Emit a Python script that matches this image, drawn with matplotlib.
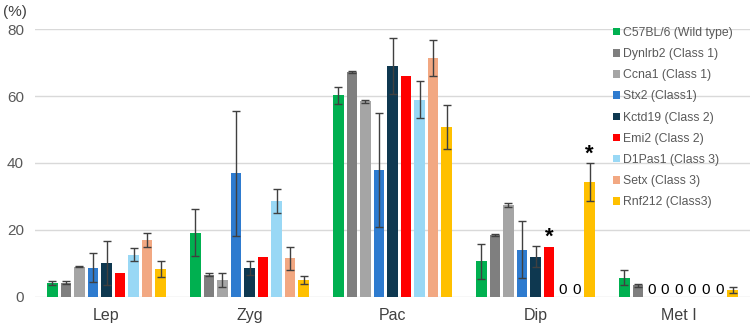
import matplotlib
matplotlib.use("Agg")
import matplotlib.pyplot as plt
import numpy as np

plt.rcParams['font.family'] = ['Liberation Sans', 'DejaVu Sans']

# Stages and strains
stages = ['Lep', 'Zyg', 'Pac', 'Dip', 'Met I']
strains = ['C57BL/6 (Wild type)', 'Dynlrb2 (Class 1)', 'Ccna1 (Class 1)', 'Stx2 (Class1)',
           'Kctd19 (Class 2)', 'Emi2 (Class 2)', 'D1Pas1 (Class 3)', 'Setx (Class 3)',
           'Rnf212 (Class3)']
colors = ['#00B050', '#7F7F7F', '#A5A5A5', '#2E7BCF', '#0E3850', '#FF0000',
          '#99D8F5', '#F2A882', '#FFC000']

# mean values (%) per strain, one entry per stage
means = [
    [4.0, 19.2, 60.2, 10.6, 5.7],
    [4.2, 6.6, 67.3, 18.5, 3.4],
    [9.0, 5.0, 58.4, 27.3, 0],
    [8.7, 36.9, 37.9, 14.0, 0],
    [10.0, 8.6, 68.9, 12.0, 0],
    [7.0, 12.0, 65.9, 15.0, 0],
    [12.6, 28.6, 58.9, 0, 0],
    [17.0, 11.5, 71.4, 0, 0],
    [8.3, 5.0, 50.8, 34.3, 2.0],
]
# error values (SD), None = no error bar
errors = [
    [0.6, 6.9, 2.6, 5.2, 2.3],
    [0.4, 0.35, 0.3, 0.35, 0.35],
    [0.15, 2.0, 0.5, 0.6, None],
    [4.3, 18.6, 17.0, 8.5, None],
    [6.6, 2.1, 8.4, 3.2, None],
    [None, None, None, None, None],
    [2.0, 3.5, 5.5, None, None],
    [2.0, 3.5, 5.5, None, None],
    [2.3, 1.2, 6.5, 5.6, 1.0],
]
# significance marks: (strain index, stage index)
stars = [(5, 3), (8, 3)]

fig = plt.figure(figsize=(7.5, 3.25), dpi=100)
ax = fig.add_axes([35 / 750, 1 - 296.7 / 325, 715 / 750, (296.7 - 29.3) / 325])

x = np.arange(len(stages))
step = 0.0947
width = 0.075
for i, (name, col) in enumerate(zip(strains, colors)):
    pos = x + (i - 4) * step
    vals = np.array(means[i], dtype=float)
    ax.bar(pos, vals, width, color=col, label=name, zorder=2)
    for j in range(len(stages)):
        e = errors[i][j]
        if e is not None:
            ax.errorbar(pos[j], vals[j], yerr=e, fmt='none', ecolor='#404040',
                        elinewidth=1, capsize=3, capthick=1, zorder=3)
        if vals[j] == 0:
            ax.text(pos[j], 1.9, '0', ha='center', va='center', fontsize=11,
                    color='black')

for i, j in stars:
    e = errors[i][j] or 0
    ax.text(x[j] + (i - 4) * step, means[i][j] + e - 0.3, '*', ha='center',
            va='bottom', fontsize=16, fontweight='bold', color='black')

ax.set_xlim(-0.5, len(stages) - 0.5)
ax.set_ylim(0, 80)
ax.set_yticks([0, 20, 40, 60, 80])
ax.yaxis.grid(True, color='#D9D9D9', linewidth=1, zorder=0)
ax.set_axisbelow(True)
for s in ax.spines.values():
    s.set_visible(False)
ax.tick_params(axis='both', length=0, labelsize=11, colors='#595959')
ax.tick_params(axis='x', pad=8, labelsize=11.5, labelcolor='#404040')
ax.tick_params(axis='y', pad=8)
ax.set_xticks(x)
ax.set_xticklabels(stages)

fig.text(0.004, 0.962, '(%)', fontsize=11, color='#404040', va='center', ha='left')

leg = ax.legend(loc='upper left', bbox_to_anchor=(613 / 750, 1 - 27 / 325),
                bbox_transform=fig.transFigure, frameon=False, fontsize=8.8,
                handlelength=0.55, handleheight=0.55, handletextpad=0.3,
                labelspacing=0.75, borderpad=0, borderaxespad=0)
for t in leg.get_texts():
    t.set_color('#595959')

fig.savefig('out.png', dpi=100)
